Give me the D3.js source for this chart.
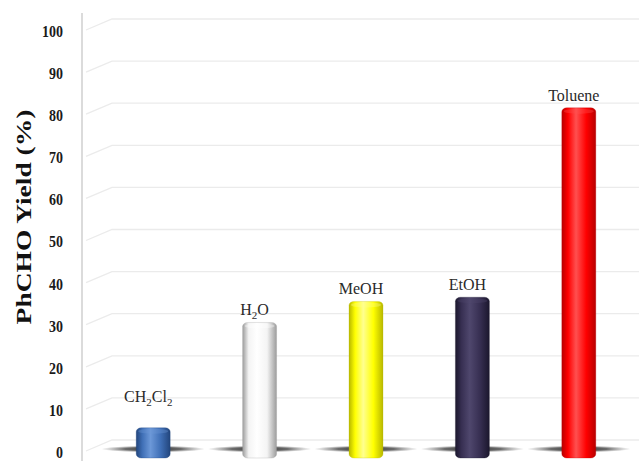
<!DOCTYPE html>
<html>
<head>
<meta charset="utf-8">
<script src="https://cdn.jsdelivr.net/npm/d3@7"></script>
<style>
  html, body { margin: 0; padding: 0; background: #fff; }
  svg { display: block; }
</style>
</head>
<body>
<svg id="chart" width="639" height="461"></svg>
<script>
// Solvent screening: benzaldehyde yield per solvent
const categories = ["CH2Cl2", "H2O", "MeOH", "EtOH", "Toluene"];
const yields = [6, 31, 36, 37, 82];
const barColors = ["#3f6fb6", "#f4f4f4", "#ffff00", "#372f52", "#ff0000"];
const edgeColors = ["#22457c", "#9c9c9c", "#b8b800", "#1b172d", "#b80000"];
const lightColors = ["#6c98d8", "#ffffff", "#ffff90", "#4f476d", "#ff5050"];
const yTicks = [0, 10, 20, 30, 40, 50, 60, 70, 80, 90, 100];
const yTitle = "PhCHO Yield (%)";

const svg = d3.select("#chart");
const W = 639, H = 461;
const axisX = 82;

const y = d3.scaleLinear().domain([0, 100]).range([453, 32]);
const x = d3.scalePoint().domain(categories).range([100, 632]).padding(0.5);
const barW = 34;

const defs = svg.append("defs");

// cylinder shading for each bar
categories.forEach((c, i) => {
  const g = defs.append("linearGradient").attr("id", "cyl" + i)
    .attr("x1", "0%").attr("x2", "100%").attr("y1", "0%").attr("y2", "0%");
  g.append("stop").attr("offset", "0%").attr("stop-color", edgeColors[i]);
  g.append("stop").attr("offset", "18%").attr("stop-color", barColors[i]);
  g.append("stop").attr("offset", "42%").attr("stop-color", lightColors[i]);
  g.append("stop").attr("offset", "72%").attr("stop-color", barColors[i]);
  g.append("stop").attr("offset", "100%").attr("stop-color", edgeColors[i]);
});

// floor shadow under each bar
const sh = defs.append("radialGradient").attr("id", "shadow");
sh.append("stop").attr("offset", "0%").attr("stop-color", "#1e1e1e").attr("stop-opacity", 0.95);
sh.append("stop").attr("offset", "55%").attr("stop-color", "#3a3a3a").attr("stop-opacity", 0.75);
sh.append("stop").attr("offset", "100%").attr("stop-color", "#666").attr("stop-opacity", 0);

// gridlines: short receding segment, then the back wall line
const grid = svg.append("g");
yTicks.forEach(t => {
  const yf = y(t) - 2, yb = y(t) - 13;
  grid.append("path")
    .attr("d", `M${axisX + 4},${yf} L112,${yb} L${W},${yb}`)
    .attr("fill", "none")
    .attr("stroke", "#ebebeb")
    .attr("stroke-width", 1.3);
});

// vertical axis line
svg.append("line")
  .attr("x1", axisX).attr("x2", axisX)
  .attr("y1", 13).attr("y2", H)
  .attr("stroke", "#cfcfcf").attr("stroke-width", 1.5);

// tick labels
const yAxis = svg.append("g")
  .attr("transform", `translate(${axisX},0)`)
  .call(d3.axisLeft(y).tickValues(yTicks).tickSize(0).tickPadding(0));
yAxis.select(".domain").remove();
yAxis.selectAll("text")
  .attr("x", 0).attr("dy", "0.26em")
  .attr("text-anchor", "end")
  .attr("transform", "translate(-19,0) scale(1,1.22)")
  .style("font-family", "'Liberation Serif', 'Times New Roman', serif")
  .style("font-weight", "bold")
  .style("font-size", "14px")
  .style("fill", "#1a1a1a");

// axis title
svg.append("text")
  .attr("transform", "translate(31,217) scale(1,1.25) rotate(-90)")
  .attr("text-anchor", "middle")
  .style("font-family", "'Liberation Serif', 'Times New Roman', serif")
  .style("font-weight", "bold")
  .style("font-size", "22px")
  .style("fill", "#111")
  .text(yTitle);

// bars
const bars = svg.append("g");
categories.forEach((c, i) => {
  const cx = x(c);
  const yt = y(yields[i]);
  const yb = y(0) + 5;
  bars.append("ellipse")
    .attr("cx", cx).attr("cy", y(0) - 4)
    .attr("rx", 52).attr("ry", 3.4)
    .attr("fill", "url(#shadow)");
  bars.append("rect")
    .attr("x", cx - barW / 2).attr("y", yt)
    .attr("width", barW).attr("height", yb - yt)
    .attr("rx", 5).attr("ry", 4)
    .attr("fill", `url(#cyl${i})`)
    .attr("stroke", edgeColors[i]).attr("stroke-opacity", 0.35).attr("stroke-width", 0.8);
  bars.append("ellipse")
    .attr("cx", cx).attr("cy", yt + 3.5)
    .attr("rx", barW / 2 - 2).attr("ry", 2.6)
    .attr("fill", lightColors[i]).attr("fill-opacity", 0.35);
});

// solvent labels, digits set as subscripts
const labels = svg.append("g")
  .style("font-family", "'Liberation Serif', 'Times New Roman', serif")
  .style("font-size", "16px")
  .style("fill", "#2a2a2a");
categories.forEach((c, i) => {
  const ly = Math.min(y(yields[i]) - 7, y(12));
  const t = labels.append("text")
    .attr("x", x(c) - 5).attr("y", ly)
    .attr("text-anchor", "middle");
  const parts = c.match(/\d+|\D+/g);
  let sub = false;
  parts.forEach(p => {
    const isNum = /^\d+$/.test(p);
    const ts = t.append("tspan").text(p);
    if (isNum && !sub) { ts.attr("dy", 4).style("font-size", "11px"); sub = true; }
    else if (!isNum && sub) { ts.attr("dy", -4); sub = false; }
  });
});
</script>
</body>
</html>
